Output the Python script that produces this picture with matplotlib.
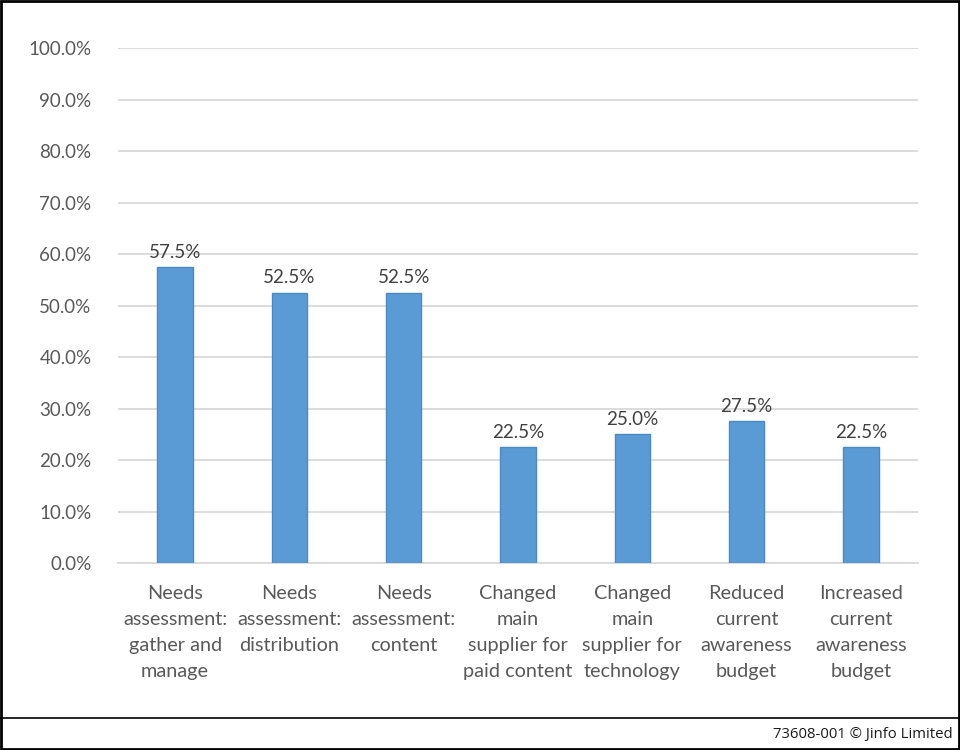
import matplotlib.pyplot as plt
from matplotlib.lines import Line2D
from matplotlib.patches import Rectangle

# chart data
categories = [
    'Needs\nassessment:\ngather and\nmanage',
    'Needs\nassessment:\ndistribution',
    'Needs\nassessment:\ncontent',
    'Changed\nmain\nsupplier for\npaid content',
    'Changed\nmain\nsupplier for\ntechnology',
    'Reduced\ncurrent\nawareness\nbudget',
    'Increased\ncurrent\nawareness\nbudget',
]
values = [57.5, 52.5, 52.5, 22.5, 25.0, 27.5, 22.5]
y_ticks = [0, 10, 20, 30, 40, 50, 60, 70, 80, 90, 100]
footer = '73608-001 \u00a9 Jinfo Limited'

plt.rcParams['font.family'] = ['Lato', 'DejaVu Sans']
text_color = '#595959'

fig = plt.figure(figsize=(9.6, 7.5), dpi=100)
ax = fig.add_axes((0.1229, 0.2493, 0.8333, 0.6867))

x = range(len(categories))
ax.bar(x, values, width=0.31, color='#5b9bd5', edgecolor='#4a89c8', linewidth=1, zorder=3)

for xi, v in zip(x, values):
    ax.text(xi, v + 1.2, '{:.1f}%'.format(v), ha='center', va='bottom',
            fontsize=13.5, color='#404040')

ax.set_xlim(-0.5, len(categories) - 0.5)
ax.set_ylim(0, 100)
ax.set_yticks(y_ticks)
ax.set_yticklabels(['{:.1f}%'.format(t) for t in y_ticks], fontsize=13.5)
ax.set_xticks(list(x))
ax.set_xticklabels(categories, linespacing=1.66, fontsize=14.3)
ax.tick_params(axis='both', length=0, labelcolor=text_color)
ax.tick_params(axis='y', pad=19)
ax.tick_params(axis='x', pad=15.5)

ax.yaxis.grid(True, color='#d9d9d9', linewidth=1.3, zorder=0)
for s in ['top', 'right', 'left']:
    ax.spines[s].set_visible(False)
ax.spines['bottom'].set_color('#d9d9d9')
ax.spines['bottom'].set_linewidth(1.3)

# footer line, border and credit
fig.add_artist(Line2D([0, 1], [0.0427, 0.0427], color='black', linewidth=1.2,
                      transform=fig.transFigure))
fig.add_artist(Rectangle((0.001, 0.001), 0.998, 0.998, fill=False, edgecolor='black',
                         linewidth=2, transform=fig.transFigure))
fig.text(0.992, 0.0213, footer, ha='right', va='center', fontsize=10.7,
         color='#1a1a1a', family=['Open Sans', 'DejaVu Sans'])

fig.savefig('out.png', dpi=100)
